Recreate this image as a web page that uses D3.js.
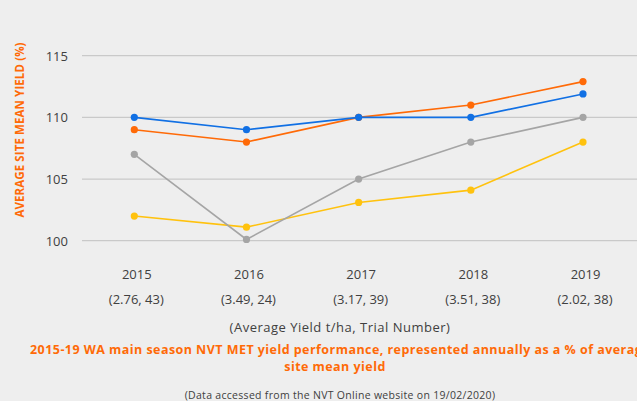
<!DOCTYPE html>
<html><head><meta charset="utf-8">
<script src="https://cdn.jsdelivr.net/npm/d3@7"></script>
<style>
html,body{margin:0;padding:0;background:#eeeeee;overflow:hidden}
svg{display:block}
text{font-family:"Open Sans","Noto Sans",sans-serif}
</style></head><body>
<svg id="chart" width="637" height="401"></svg>
<script>
const years = ["2015","2016","2017","2018","2019"];
const subLabels = ["(2.76, 43)","(3.49, 24)","(3.17, 39)","(3.51, 38)","(2.02, 38)"];
const blueSeries   = [110, 109, 110, 110, 111.9];
const orangeSeries = [109, 108, 110, 111, 112.9];
const graySeries   = [107, 100.1, 105, 108, 110];
const yellowSeries = [102, 101.1, 103.1, 104.1, 108];
const yTicks = [100, 105, 110, 115];
const seriesColors = ["#1170e4", "#ff6a07", "#a5a5a5", "#ffc20e"];

const svg = d3.select("#chart");
const W = 637, H = 401;
svg.append("rect").attr("width", W).attr("height", H).attr("fill", "#eeeeee");

const x = d3.scalePoint().domain(years).range([134.3, 583]);
const y = d3.scaleLinear().domain([100, 115]).range([240.7, 55.7]);

// gridlines
svg.append("g").selectAll("line").data(yTicks).join("line")
  .attr("x1", 82).attr("x2", W)
  .attr("y1", d => y(d)).attr("y2", d => y(d))
  .attr("stroke", "#c9c9c9").attr("stroke-width", 1.3);

// y axis
const yAxis = d3.axisLeft(y).tickValues(yTicks).tickSize(0).tickPadding(0);
const gy = svg.append("g").attr("transform", "translate(68,0)").call(yAxis);
gy.select(".domain").remove();
gy.selectAll("text").attr("font-size", 13).attr("fill", "#404040")
  .attr("font-family", '"Open Sans",sans-serif').attr("dy", "0.35em");

// y title
svg.append("text")
  .attr("transform", "translate(24,130) rotate(-90)")
  .attr("text-anchor", "middle")
  .attr("font-size", 11.5).attr("font-weight", "bold")
  .attr("letter-spacing", "0.1px")
  .attr("fill", "#ff6a07")
  .text("AVERAGE SITE MEAN YIELD (%)");

// x axis labels
const xAxis = d3.axisBottom(x).tickSize(0).tickPadding(0);
const gx = svg.append("g").attr("transform", "translate(0,274)").call(xAxis);
gx.select(".domain").remove();
gx.selectAll(".tick text").attr("font-size", 13).attr("fill", "#404040")
  .attr("font-family", '"Open Sans",sans-serif').attr("dy", "0.35em")
  .attr("dx", 2);
svg.append("g").selectAll("text").data(years).join("text")
  .attr("x", (d) => x(d) + 2).attr("y", 303.5)
  .attr("text-anchor", "middle").attr("font-size", 13).attr("fill", "#404040")
  .text((d, i) => subLabels[i]);

svg.append("text").attr("x", 340).attr("y", 332).attr("text-anchor", "middle")
  .attr("font-size", 13).attr("letter-spacing", "0.5px").attr("fill", "#404040")
  .text("(Average Yield t/ha, Trial Number)");

svg.append("text").attr("x", 30).attr("y", 354)
  .attr("font-size", 12.5).attr("font-weight", "bold").attr("letter-spacing", "0.45px")
  .attr("fill", "#ff6a07")
  .text("2015-19 WA main season NVT MET yield performance, represented annually as a % of average");
svg.append("text").attr("x", 335).attr("y", 370.5).attr("text-anchor", "middle")
  .attr("font-size", 12.5).attr("font-weight", "bold").attr("letter-spacing", "0.45px")
  .attr("fill", "#ff6a07")
  .text("site mean yield");

svg.append("text").attr("x", 340).attr("y", 398.5).attr("text-anchor", "middle")
  .attr("font-size", 10.5).attr("letter-spacing", "0.3px").attr("fill", "#404040")
  .text("(Data accessed from the NVT Online website on 19/02/2020)");

// series (draw gray & yellow first, then orange, blue)
const allSeries = [blueSeries, orangeSeries, graySeries, yellowSeries];
const order = [3, 2, 1, 0];
const line = d3.line().x((d, i) => x(years[i])).y(d => y(d));
order.forEach(k => {
  const g = svg.append("g");
  g.append("path").datum(allSeries[k]).attr("d", line)
    .attr("fill", "none").attr("stroke", seriesColors[k]).attr("stroke-width", 1.6);
  g.selectAll("circle").data(allSeries[k]).join("circle")
    .attr("cx", (d, i) => x(years[i])).attr("cy", d => y(d)).attr("r", 3.6)
    .attr("fill", seriesColors[k]);
});
</script>
</body></html>
